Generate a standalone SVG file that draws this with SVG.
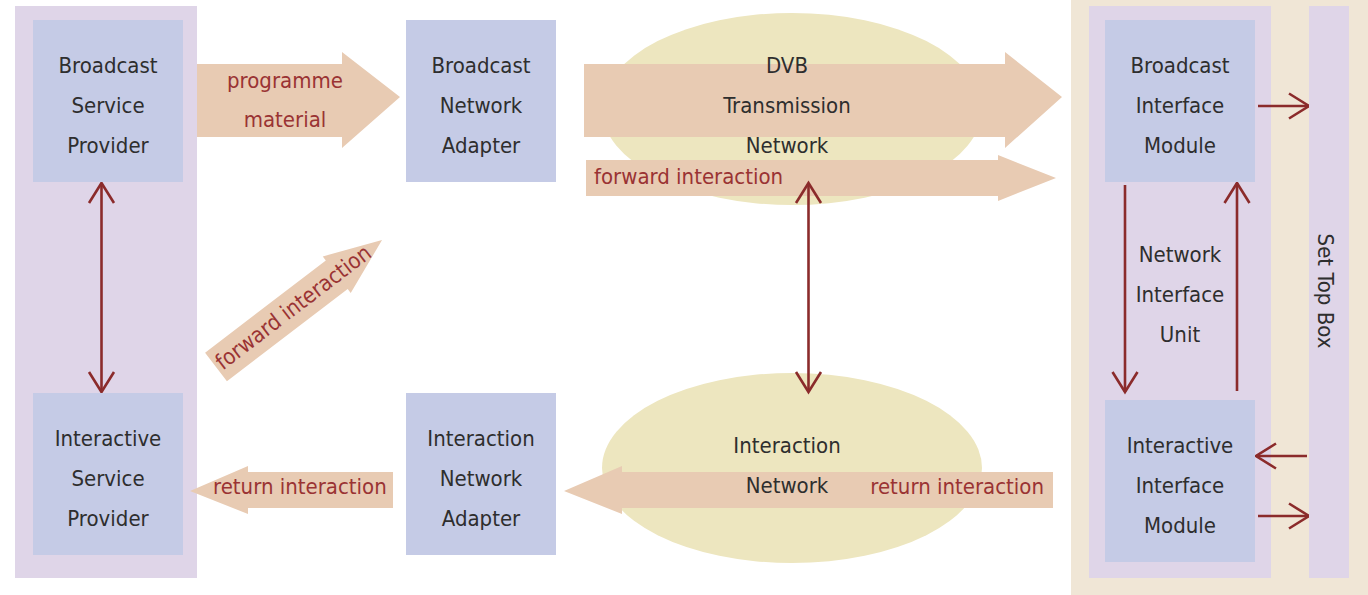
<svg xmlns="http://www.w3.org/2000/svg" width="1368" height="595" viewBox="0 0 1368 595">
<defs>
<style>
.panel{fill:#dfd5e8}
.box{fill:#c5cbe6}
.ell{fill:#ede6bf}
.fat{fill:#e8cbb3}
.t{font-family:"DejaVu Sans Condensed","DejaVu Sans",sans-serif;font-stretch:condensed;font-size:22px;fill:#2e2e2e;text-anchor:middle}
.r{font-family:"DejaVu Sans Condensed","DejaVu Sans",sans-serif;font-stretch:condensed;font-size:22px;fill:#9a3333}
.ln{stroke:#8b2b2b;stroke-width:2.6;fill:none}
</style>
<marker id="ah" markerUnits="userSpaceOnUse" markerWidth="30" markerHeight="30" viewBox="-24 -15 30 30" refX="0" refY="0" orient="auto-start-reverse">
<path d="M-20,-12.5 L0,0 L-20,12.5" fill="none" stroke="#8b2b2b" stroke-width="2.6"/>
</marker>
</defs>
<rect width="1368" height="595" fill="#ffffff"/>
<rect x="1071" y="0" width="297" height="595" fill="#f0e6d6"/>
<rect class="panel" x="15" y="6" width="182" height="572"/>
<rect class="panel" x="1089" y="6" width="182" height="572"/>

<g id="dvb-network">
<ellipse class="ell" cx="792" cy="109" rx="190" ry="96"/>
</g>
<g id="interaction-network-shape">
<ellipse class="ell" cx="792" cy="468" rx="190" ry="95"/>
</g>

<g id="connectors">
<polygon class="fat" points="197,64 342,64 342,52 400,97 342,148 342,137 197,137"/>
<polygon class="fat" points="584,64 1005,64 1005,52 1062,97 1005,148 1005,137 584,137"/>
<polygon class="fat" points="586,160 998,160 998,155 1056,178 998,201 998,196 586,196"/>
<polygon class="fat" points="1053,472 622,472 622,466 564,491 622,514 622,508 1053,508"/>
<polygon class="fat" points="393,472 248,472 248,466 190,491 248,514 248,508 393,508"/>
<g transform="translate(216,367) rotate(-37.4)">
<polygon class="fat" points="0,-18 152,-18 152,-23 209,0 152,23 152,18 0,18"/>
<text class="r" x="3" y="7">forward interaction</text>
</g>
<text class="r" x="285" y="88" text-anchor="middle">programme</text>
<text class="r" x="285" y="127" text-anchor="middle">material</text>
<text class="r" x="594" y="184">forward interaction</text>
<text class="r" x="1044" y="494" text-anchor="end">return interaction</text>
<text class="r" x="213" y="494">return interaction</text>
<line class="ln" x1="101.5" y1="183" x2="101.5" y2="392" marker-start="url(#ah)" marker-end="url(#ah)"/>
<line class="ln" x1="808.5" y1="183" x2="808.5" y2="392" marker-start="url(#ah)" marker-end="url(#ah)"/>
<line class="ln" x1="1125" y1="185" x2="1125" y2="392" marker-end="url(#ah)"/>
<line class="ln" x1="1237" y1="391" x2="1237" y2="183" marker-end="url(#ah)"/>
<line class="ln" x1="1258" y1="106" x2="1309" y2="106" marker-end="url(#ah)"/>
<line class="ln" x1="1307" y1="456" x2="1256" y2="456" marker-end="url(#ah)"/>
<line class="ln" x1="1258" y1="516" x2="1309" y2="516" marker-end="url(#ah)"/>
</g>

<g id="dvb-label">
<text class="t" x="787" y="73">DVB</text>
<text class="t" x="787" y="113">Transmission</text>
<text class="t" x="787" y="153">Network</text>
</g>
<g id="interaction-network">
<text class="t" x="787" y="453">Interaction</text>
<text class="t" x="787" y="493">Network</text>
</g>

<g id="broadcast-service-provider">
<rect class="box" x="33" y="20" width="150" height="162"/>
<text class="t" x="108" y="73">Broadcast</text>
<text class="t" x="108" y="113">Service</text>
<text class="t" x="108" y="153">Provider</text>
</g>
<g id="interactive-service-provider">
<rect class="box" x="33" y="393" width="150" height="162"/>
<text class="t" x="108" y="446">Interactive</text>
<text class="t" x="108" y="486">Service</text>
<text class="t" x="108" y="526">Provider</text>
</g>
<g id="broadcast-network-adapter">
<rect class="box" x="406" y="20" width="150" height="162"/>
<text class="t" x="481" y="73">Broadcast</text>
<text class="t" x="481" y="113">Network</text>
<text class="t" x="481" y="153">Adapter</text>
</g>
<g id="interaction-network-adapter">
<rect class="box" x="406" y="393" width="150" height="162"/>
<text class="t" x="481" y="446">Interaction</text>
<text class="t" x="481" y="486">Network</text>
<text class="t" x="481" y="526">Adapter</text>
</g>
<g id="broadcast-interface-module">
<rect class="box" x="1105" y="20" width="150" height="162"/>
<text class="t" x="1180" y="73">Broadcast</text>
<text class="t" x="1180" y="113">Interface</text>
<text class="t" x="1180" y="153">Module</text>
</g>
<g id="network-interface-unit">
<text class="t" x="1180" y="262">Network</text>
<text class="t" x="1180" y="302">Interface</text>
<text class="t" x="1180" y="342">Unit</text>
</g>
<g id="interactive-interface-module">
<rect class="box" x="1105" y="400" width="150" height="162"/>
<text class="t" x="1180" y="453">Interactive</text>
<text class="t" x="1180" y="493">Interface</text>
<text class="t" x="1180" y="533">Module</text>
</g>
<g id="set-top-box">
<rect class="panel" x="1309" y="6" width="40" height="572"/>
<text class="t" transform="translate(1318,291) rotate(90)">Set Top Box</text>
</g>
</svg>
